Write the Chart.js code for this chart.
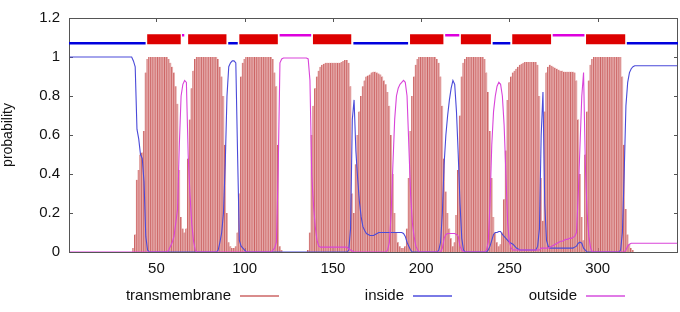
<!DOCTYPE html>
<html>
<head>
<meta charset="utf-8">
<script src="https://cdn.jsdelivr.net/npm/chart.js@4.4.0/dist/chart.umd.min.js"></script>
<style>
    html, body { margin: 0; padding: 0; background: #fff; }
    #wrap { width: 680px; height: 312px; }
</style>
</head>
<body>
<div id="wrap"><canvas id="tmChart" width="680" height="312"></canvas></div>
<script>
// posterior probabilities per residue (1..345)
const tmProb = [
    0,0,0,0,0,0,0,0,0,0,
    0,0,0,0,0,0,0,0,0,0,
    0,0,0,0,0,0,0,0,0,0,
    0,0,0,0,0,0,0.02,0.09,0.37,0.42,
    0.50,0.51,0.62,0.92,0.99,1,1,1,1,1,
    1,1,1,1,1,1,0.99,0.97,0.95,0.92,
    0.85,0.76,0.42,0.18,0.12,0.10,0.12,0.48,0.68,0.84,
    0.93,0.99,1,1,1,1,1,1,1,1,
    1,1,1,1,0.99,0.95,0.90,0.80,0.55,0.20,
    0.05,0.03,0.02,0.02,0.03,0.10,0.30,0.90,0.97,0.99,
    1,1,1,1,1,1,1,1,1,1,
    1,1,1,1,1,0.99,0.92,0.85,0.55,0.03,
    0.01,0,0,0,0,0,0,0,0,0,
    0,0,0,0,0,0.01,0.10,0.60,0.75,0.84,
    0.90,0.93,0.95,0.96,0.965,0.97,0.97,0.97,0.97,0.97,
    0.97,0.97,0.97,0.97,0.975,0.98,0.985,0.985,0.97,0.85,
    0.30,0.20,0.45,0.60,0.72,0.80,0.85,0.88,0.90,0.905,
    0.91,0.92,0.925,0.925,0.92,0.915,0.91,0.90,0.88,0.86,
    0.82,0.75,0.60,0.40,0.20,0.10,0.05,0.03,0.02,0.02,
    0.03,0.12,0.38,0.62,0.80,0.90,0.96,0.99,1,1,
    1,1,1,1,1,1,1,1,0.99,0.97,
    0.90,0.75,0.48,0.31,0.20,0.12,0.07,0.03,0.05,0.19,
    0.42,0.70,0.90,0.97,0.99,1,1,1,1,1,
    1,1,1,1,1,0.99,0.92,0.82,0.62,0.38,
    0.18,0.10,0.05,0.03,0.04,0.10,0.27,0.52,0.78,0.87,
    0.90,0.92,0.93,0.94,0.95,0.96,0.965,0.97,0.975,0.975,
    0.975,0.975,0.975,0.975,0.975,0.96,0.80,0.38,0.16,0.72,
    0.92,0.95,0.96,0.955,0.95,0.945,0.94,0.935,0.93,0.93,
    0.925,0.925,0.925,0.925,0.925,0.925,0.92,0.88,0.68,0.40,
    0.18,0.06,0.50,0.72,0.88,0.96,0.99,1,1,1,
    1,1,1,1,1,1,1,1,1,1,
    1,1,1,0.90,0.55,0.22,0.09,0.04,0.02,0.01,
    0,0,0,0,0,0,0,0,0,0,
    0,0,0,0,0,0,0,0,0,0,
    0,0,0,0,0
];

const insideProb = [
    1,1,1,1,1,1,1,1,1,1,
    1,1,1,1,1,1,1,1,1,1,
    1,1,1,1,1,1,1,1,1,1,
    1,1,1,1,1,1,0.98,0.95,0.63,0.58,
    0.50,0.48,0.36,0.08,0.01,0,0,0,0,0,
    0,0,0,0,0,0,0,0,0,0,
    0,0,0,0,0,0,0,0,0,0,
    0,0,0,0,0,0,0,0,0,0,
    0,0,0,0,0.01,0.05,0.10,0.20,0.45,0.80,
    0.95,0.97,0.98,0.98,0.97,0.50,0.06,0.03,0.02,0.01,
    0,0,0,0,0,0,0,0,0,0,
    0,0,0,0,0,0,0,0,0,0,
    0,0,0,0,0,0,0,0,0,0,
    0,0,0,0,0,0,0,0,0,0,
    0,0,0,0,0,0,0,0,0,0,
    0,0,0,0,0,0,0,0,0.01,0.12,
    0.68,0.78,0.52,0.38,0.26,0.18,0.13,0.11,0.095,0.09,
    0.085,0.085,0.085,0.09,0.095,0.10,0.10,0.10,0.10,0.10,
    0.10,0.10,0.10,0.10,0.10,0.10,0.10,0.10,0.10,0.095,
    0.08,0.05,0.03,0.01,0,0,0,0,0,0,
    0,0,0,0,0,0,0,0,0,0.01,
    0.05,0.20,0.45,0.60,0.70,0.78,0.84,0.88,0.86,0.72,
    0.50,0.25,0.07,0.01,0,0,0,0,0,0,
    0,0,0,0,0,0,0,0.01,0.03,0.06,
    0.09,0.10,0.10,0.105,0.105,0.09,0.08,0.07,0.06,0.05,
    0.045,0.04,0.03,0.02,0.015,0.01,0.01,0.01,0.01,0.01,
    0.01,0.01,0.01,0.01,0.01,0.03,0.12,0.60,0.82,0.25,
    0.06,0.03,0.02,0.02,0.02,0.02,0.02,0.02,0.02,0.02,
    0.02,0.02,0.02,0.02,0.02,0.02,0.025,0.03,0.045,0.05,
    0.045,0.02,0.01,0,0,0,0,0,0,0,
    0,0,0,0,0,0,0,0,0,0,
    0,0,0.01,0.10,0.40,0.75,0.87,0.92,0.94,0.95,
    0.955,0.955,0.955,0.955,0.955,0.955,0.955,0.955,0.955,0.955,
    0.955,0.955,0.955,0.955,0.955,0.955,0.955,0.955,0.955,0.955,
    0.955,0.955,0.955,0.955,0.955
];

const outsideProb = [
    0,0,0,0,0,0,0,0,0,0,
    0,0,0,0,0,0,0,0,0,0,
    0,0,0,0,0,0,0,0,0,0,
    0,0,0,0,0,0,0,0,0,0,
    0,0,0,0,0,0,0,0,0,0,
    0,0,0,0,0,0,0.01,0.03,0.05,0.08,
    0.15,0.22,0.55,0.80,0.86,0.88,0.87,0.50,0.30,0.15,
    0.06,0.01,0,0,0,0,0,0,0,0,
    0,0,0,0,0,0,0,0,0,0,
    0,0,0,0,0,0,0,0,0,0,
    0,0,0,0,0,0,0,0,0,0,
    0,0,0,0,0,0.01,0.02,0.05,0.42,0.97,
    0.99,0.995,0.995,0.995,0.995,0.995,0.995,0.995,0.995,0.995,
    0.995,0.995,0.995,0.995,0.995,0.99,0.88,0.40,0.24,0.13,
    0.06,0.03,0.025,0.025,0.025,0.025,0.025,0.025,0.025,0.025,
    0.025,0.025,0.025,0.025,0.025,0.025,0.025,0.025,0.015,0.01,
    0.005,0,0,0,0,0,0,0,0,0,
    0,0,0,0,0,0,0,0,0,0,
    0.01,0.05,0.20,0.45,0.68,0.80,0.84,0.86,0.87,0.88,
    0.87,0.80,0.55,0.30,0.15,0.08,0.03,0.01,0,0,
    0,0,0,0,0,0,0,0,0,0,
    0,0.02,0.07,0.09,0.095,0.095,0.095,0.095,0.095,0.09,
    0.08,0.03,0.01,0,0,0,0,0,0,0,
    0,0,0,0,0,0,0.01,0.05,0.25,0.55,
    0.72,0.80,0.85,0.87,0.86,0.80,0.65,0.40,0.15,0.05,
    0.02,0.01,0.01,0.01,0.01,0.01,0.01,0.01,0.01,0.01,
    0.01,0.01,0.01,0.01,0.01,0.01,0.01,0.02,0.02,0.02,
    0.02,0.02,0.025,0.03,0.035,0.04,0.045,0.05,0.055,0.055,
    0.06,0.065,0.065,0.07,0.07,0.075,0.08,0.10,0.30,0.55,
    0.80,0.92,0.45,0.20,0.08,0.02,0,0,0,0,
    0,0,0,0,0,0,0,0,0,0,
    0,0,0,0,0,0.01,0.03,0.04,0.045,0.045,
    0.045,0.045,0.045,0.045,0.045,0.045,0.045,0.045,0.045,0.045,
    0.045,0.045,0.045,0.045,0.045,0.045,0.045,0.045,0.045,0.045,
    0.045,0.045,0.045,0.045,0.045
];

// predicted topology along the top (i = inside, M = helix, o = outside)
const topoStart = [0.4, 44.8, 64.5, 68.0, 90.7, 97.0, 119.8, 138.7, 161.6, 193.7, 213.6, 222.5, 240.5, 251.6, 274.5, 293.4, 316.5];
const topoEnd   = [43.9, 63.8, 65.8, 89.7, 96.1, 118.8, 137.7, 160.4, 192.6, 212.6, 221.6, 239.5, 250.5, 273.6, 292.5, 315.6, 345.5];
const topoType  = ["i","M","o","M","i","M","o","M","i","M","o","M","i","M","o","M","i"];

const xTicks = [50, 100, 150, 200, 250, 300];
const yTicks = [0, 0.2, 0.4, 0.6, 0.8, 1, 1.2];

const residues = Array.from({ length: tmProb.length }, (_, i) => i + 1);
const toPoints = vals => vals.map((v, i) => ({ x: residues[i], y: v }));

const topoStyle = {
    i: { y: 1.071, color: "#0000dd", width: 2.5 },
    M: { y: 1.091, color: "#dd0000", width: 10 },
    o: { y: 1.112, color: "#dd00dd", width: 2.5 }
};

function topoData(kind) {
    const pts = [];
    topoType.forEach((t, i) => {
        if (t !== kind) return;
        pts.push({ x: topoStart[i], y: topoStyle[kind].y });
        pts.push({ x: topoEnd[i], y: topoStyle[kind].y });
        pts.push({ x: topoEnd[i], y: null });
    });
    return pts;
}

function topoDataset(kind) {
    return {
        type: "line",
        label: "topo-" + kind,
        data: topoData(kind),
        borderColor: topoStyle[kind].color,
        borderWidth: topoStyle[kind].width,
        borderCapStyle: "butt",
        pointRadius: 0,
        spanGaps: false,
        tension: 0,
        order: 0
    };
}

const legendItems = [
    { label: "transmembrane", color: "#d98c8c", textRight: 231, lineFrom: 240, lineTo: 279 },
    { label: "inside", color: "#7a7ae6", textRight: 404, lineFrom: 413, lineTo: 452 },
    { label: "outside", color: "#e07ae6", textRight: 577, lineFrom: 586, lineTo: 625 }
];

const framePlugin = {
    id: "frame",
    beforeDatasetsDraw(chart) {
        const { ctx, chartArea: a, scales } = chart;
        ctx.save();
        ctx.strokeStyle = "#555";
        ctx.lineWidth = 1;
        ctx.strokeRect(Math.round(a.left) + 0.5, Math.round(a.top) + 0.5,
            Math.round(a.right - a.left) - 1, Math.round(a.bottom - a.top));
        ctx.beginPath();
        yTicks.forEach(v => {
            const y = Math.round(scales.y.getPixelForValue(v)) + 0.5;
            ctx.moveTo(a.left, y); ctx.lineTo(a.left + 4, y);
            ctx.moveTo(a.right, y); ctx.lineTo(a.right - 4, y);
        });
        xTicks.forEach(v => {
            const x = Math.round(scales.x.getPixelForValue(v)) + 0.5;
            ctx.moveTo(x, a.top); ctx.lineTo(x, a.top + 4);
            ctx.moveTo(x, a.bottom); ctx.lineTo(x, a.bottom - 4);
        });
        ctx.stroke();
        ctx.restore();
    }
};

const legendPlugin = {
    id: "gnuLegend",
    afterDraw(chart) {
        const ctx = chart.ctx;
        const y = 296;
        ctx.save();
        ctx.font = "15px 'Liberation Sans', Arial, sans-serif";
        ctx.textAlign = "right";
        ctx.textBaseline = "middle";
        legendItems.forEach(item => {
            ctx.fillStyle = "#111";
            ctx.fillText(item.label, item.textRight, y);
            ctx.strokeStyle = item.color;
            ctx.lineWidth = 2;
            ctx.beginPath();
            ctx.moveTo(item.lineFrom, y);
            ctx.lineTo(item.lineTo, y);
            ctx.stroke();
        });
        ctx.restore();
    }
};

const ctx = document.getElementById("tmChart").getContext("2d");

new Chart(ctx, {
    type: "bar",
    data: {
        datasets: [
            topoDataset("M"),
            topoDataset("i"),
            topoDataset("o"),
            {
                type: "line",
                label: "outside",
                data: toPoints(outsideProb),
                borderColor: "#d944d9",
                borderWidth: 1.1,
                pointRadius: 0,
                tension: 0,
                order: 1
            },
            {
                type: "line",
                label: "inside",
                data: toPoints(insideProb),
                borderColor: "#4a4ad9",
                borderWidth: 1.1,
                pointRadius: 0,
                tension: 0,
                order: 2
            },
            {
                type: "bar",
                label: "transmembrane",
                data: toPoints(tmProb),
                backgroundColor: "#e6acac",
                borderColor: "#c95c5c",
                borderWidth: { left: 1, right: 0, top: 0, bottom: 0 },
                borderSkipped: false,
                barPercentage: 1,
                categoryPercentage: 1,
                order: 5
            }
        ]
    },
    options: {
        responsive: false,
        animation: false,
        devicePixelRatio: 1,
        layout: { padding: { top: 8, right: 2, left: 0, bottom: 0 } },
        plugins: {
            legend: { display: false },
            tooltip: { enabled: false }
        },
        scales: {
            x: {
                type: "linear",
                min: 0.5,
                max: 345.5,
                offset: false,
                grid: { display: false, drawTicks: false },
                border: { display: false },
                ticks: {
                    color: "#111",
                    padding: 8,
                    maxRotation: 0,
                    font: { family: "'Liberation Sans', Arial, sans-serif", size: 15 }
                },
                afterBuildTicks: s => { s.ticks = xTicks.map(v => ({ value: v })); },
                afterFit: s => { s.height = 60; }
            },
            y: {
                type: "linear",
                min: 0,
                max: 1.2,
                grid: { display: false, drawTicks: false },
                border: { display: false },
                ticks: {
                    color: "#111",
                    padding: 9,
                    font: { family: "'Liberation Sans', Arial, sans-serif", size: 15 },
                    callback: v => String(Math.round(v * 10) / 10)
                },
                afterBuildTicks: s => { s.ticks = yTicks.map(v => ({ value: v })); },
                afterFit: s => { s.width = 69; },
                title: {
                    display: true,
                    text: "probability",
                    color: "#111",
                    padding: { top: 0, bottom: 0 },
                    font: { family: "'Liberation Sans', Arial, sans-serif", size: 14 }
                }
            }
        }
    },
    plugins: [framePlugin, legendPlugin]
});
</script>
</body>
</html>
